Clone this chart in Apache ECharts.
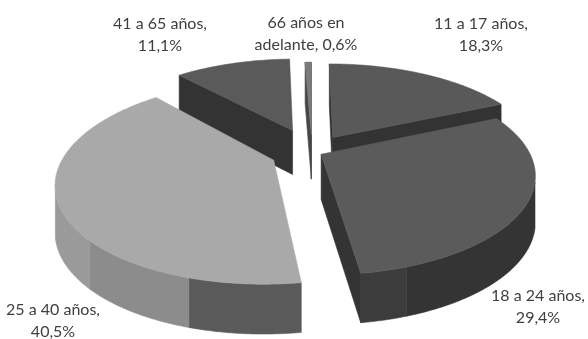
<!DOCTYPE html>
<html>
<head>
<meta charset="utf-8">
<script src="https://cdn.jsdelivr.net/npm/echarts@6/dist/echarts.min.js"></script>
<style>
  html, body { margin: 0; padding: 0; background: #ffffff; }
  #chart { width: 588px; height: 339px; }
</style>
</head>
<body>
<div id="chart"></div>
<script>
// Age groups and their share of the total (%)
const categories = ['11 a 17 años', '18 a 24 años', '25 a 40 años', '41 a 65 años', '66 años en adelante'];
const shares = [18.3, 29.4, 40.5, 11.1, 0.6];

// Look of each slice: top-face colour and how far it is pulled out (in radii)
const topColors = ['#595959', '#5b5b5b', '#a9a9a9', '#5a5a5a', '#7a7a7a'];
const explode = [0.19, 0.05, 0.2, 0.26, 0.19];
// Label centres in pixels
const labelAnchors = [[481, 35], [538, 307], [53, 321], [160, 35], [306, 34]];
const LABEL_FONT = { family: 'Lato', size: 16, color: '#404040', lineHeight: 22, maxWidth: 118 };

// Perspective camera for the tilted pie
const VIEW = { cx: 312, cy: 152, fx: 901, fy: 948.8, dist: 4.332, tilt: 25.5, depth: 45, depthPersp: 0.4 };

const deg = Math.PI / 180;
const cosT = Math.cos(VIEW.tilt * deg);
const sinT = Math.sin(VIEW.tilt * deg);
const camY = -VIEW.dist * cosT;

function project(X, Y) {
  const z = VIEW.dist + Y * cosT;
  return {
    x: VIEW.cx + VIEW.fx * X / z,
    y: VIEW.cy - VIEW.fy * sinT * Y / z,
    h: VIEW.depth * Math.pow(VIEW.dist / z, VIEW.depthPersp)
  };
}

function tint(hex, k) {
  const r = Math.round(parseInt(hex.slice(1, 3), 16) * k);
  const g = Math.round(parseInt(hex.slice(3, 5), 16) * k);
  const b = Math.round(parseInt(hex.slice(5, 7), 16) * k);
  return 'rgb(' + r + ',' + g + ',' + b + ')';
}

// Light falls from the left: side facets turned that way are brighter
function wallFactor(theta, base) {
  const t = ((theta % 360) + 360) % 360;
  if (t >= 225) return 0.91;
  if (t >= 196) return 0.83;
  if (t >= 161) return base > 128 ? 0.53 : 0.66;
  return 0.57;
}

function pctText(v) {
  return v.toFixed(1).replace('.', ',') + '%';
}

// Greedy word wrap so that labels break between words only
const measureCtx = document.createElement('canvas').getContext('2d');
function wrapLabel(text) {
  measureCtx.font = LABEL_FONT.size + 'px ' + LABEL_FONT.family;
  const words = text.split(' ');
  const lines = [];
  let line = '';
  words.forEach(w => {
    const trial = line ? line + ' ' + w : w;
    if (line && measureCtx.measureText(trial).width > LABEL_FONT.maxWidth) {
      lines.push(line);
      line = w;
    } else {
      line = trial;
    }
  });
  if (line) lines.push(line);
  return lines.join('\n');
}

function buildSlice(i, values) {
  const total = values.reduce((a, b) => a + b, 0);
  let acc = 0;
  for (let k = 0; k < i; k++) acc += values[k];
  const a0 = acc / total * 360;
  const a1 = (acc + values[i]) / total * 360;
  const am = (a0 + a1) / 2;
  const ex = explode[i] * Math.sin(am * deg);
  const ey = explode[i] * Math.cos(am * deg);
  const ground = (th) => ({ X: ex + Math.sin(th * deg), Y: ey + Math.cos(th * deg) });
  const base = parseInt(topColors[i].slice(1, 3), 16);
  const sideFill = (k) => tint(topColors[i], k);
  const faces = [];

  const facesCamera = (X, Y, nx, ny) => (0 - X) * nx + (camY - Y) * ny > 0;

  // curved outer wall, split into shading bands
  const n = Math.max(2, Math.ceil((a1 - a0) / 0.5));
  let run = [];
  let runBand = null;
  const flush = () => {
    if (runBand !== null && run.length > 1) {
      const top = run.map(p => [p.x, p.y]);
      const bottom = run.map(p => [p.x, p.y + p.h]).reverse();
      const col = sideFill(runBand);
      faces.push({ points: top.concat(bottom), fill: col, stroke: col });
    }
  };
  for (let k = 0; k <= n; k++) {
    const th = a0 + (a1 - a0) * k / n;
    const g = ground(th);
    const vis = facesCamera(g.X, g.Y, Math.sin(th * deg), Math.cos(th * deg));
    const band = vis ? wallFactor(th, base) : null;
    const p = project(g.X, g.Y);
    if (band !== runBand) {
      if (runBand !== null) run.push(p);
      flush();
      run = [p];
      runBand = band;
    } else {
      run.push(p);
    }
  }
  flush();

  // flat radial walls
  const v = project(ex, ey);
  [[a0, a0 - 90], [a1, a1 + 90]].forEach(([edge, nAng]) => {
    if (facesCamera(ex, ey, Math.sin(nAng * deg), Math.cos(nAng * deg))) {
      const g = ground(edge);
      const o = project(g.X, g.Y);
      const col = sideFill(0.57);
      faces.push({
        points: [[v.x, v.y], [o.x, o.y], [o.x, o.y + o.h], [v.x, v.y + v.h]],
        fill: col, stroke: col
      });
    }
  });

  // top face
  const topPts = [[v.x, v.y]];
  const m = Math.max(2, Math.ceil(a1 - a0));
  for (let k = 0; k <= m; k++) {
    const th = a0 + (a1 - a0) * k / m;
    const g = ground(th);
    const p = project(g.X, g.Y);
    topPts.push([p.x, p.y]);
  }
  const topFace = { points: topPts, fill: topColors[i], stroke: topColors[i] };

  return { faces, topFace, depthKey: ey + 0.5 * Math.cos(am * deg) };
}

const slices = shares.map((_, i) => buildSlice(i, shares));
const order = slices.map((s, i) => i).sort((a, b) => slices[b].depthKey - slices[a].depthKey);
const rank = [];
order.forEach((idx, r) => { rank[idx] = r; });

const chart = echarts.init(document.getElementById('chart'), null, { renderer: 'canvas' });

chart.setOption({
  backgroundColor: '#ffffff',
  animation: false,
  series: [{
    type: 'custom',
    coordinateSystem: 'none',
    data: shares.map((v, i) => ({ name: categories[i], value: v })),
    renderItem: function (params, api) {
      const i = params.dataIndex;
      const s = buildSlice(i, shares);
      const r = rank[i];
      const children = s.faces.map(f => ({
        type: 'polygon',
        z2: r * 10 + 1,
        shape: { points: f.points },
        style: { fill: f.fill, stroke: f.stroke, lineWidth: 0.6, lineJoin: 'round' }
      }));
      children.push({
        type: 'polygon',
        z2: r * 10 + 2,
        shape: { points: s.topFace.points },
        style: { fill: s.topFace.fill, stroke: s.topFace.stroke, lineWidth: 0.6, lineJoin: 'round' }
      });
      const a = labelAnchors[i];
      children.push({
        type: 'text',
        z2: 100,
        x: a[0],
        y: a[1],
        style: {
          text: wrapLabel(categories[i] + ', ' + pctText(api.value(0))),
          fill: LABEL_FONT.color,
          fontFamily: LABEL_FONT.family,
          fontSize: LABEL_FONT.size,
          lineHeight: LABEL_FONT.lineHeight,
          align: 'center',
          verticalAlign: 'middle'
        }
      });
      return { type: 'group', children: children };
    }
  }]
});
</script>
</body>
</html>
